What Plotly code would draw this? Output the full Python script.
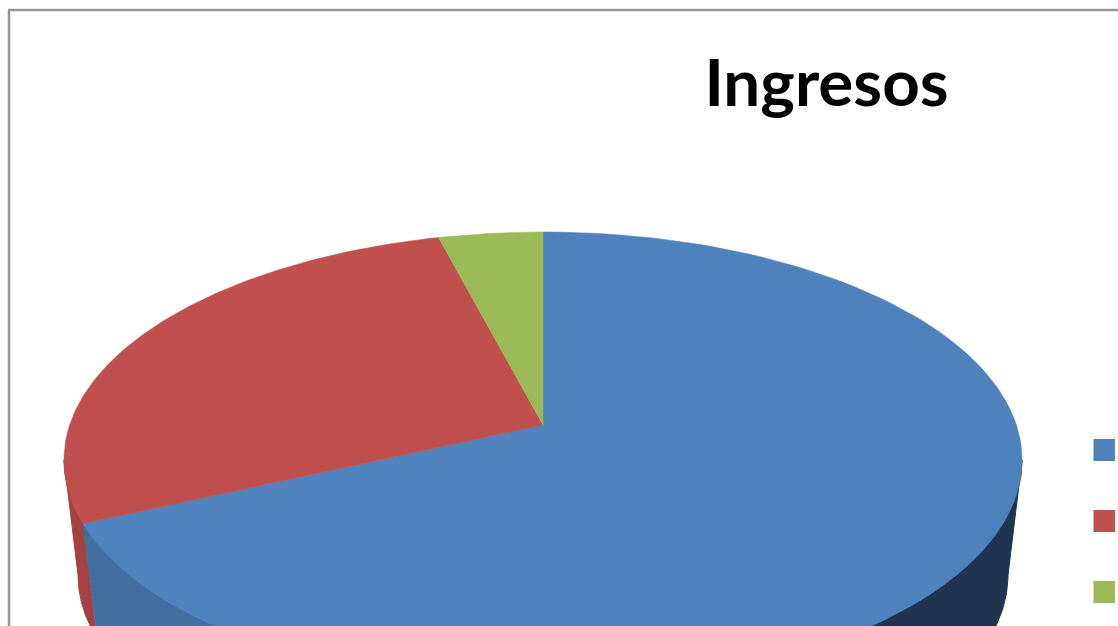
import numpy as np
import plotly.graph_objects as go

# Data (legend labels are cut off in the reference)
categories = ["Categoría 1", "Categoría 2", "Categoría 3"]
shares = [70.5, 26.0, 3.5]
slice_colors = ["#4F81BD", "#C0504D", "#9BBB59"]
title_text = "Ingresos"

# 3D look of the pie (style only)
APEX = (543, 425)
TOP = dict(cx=543, cy=460, rx=479, ry=228)
BOTTOM = dict(cx=543, cy=575, rx=465, ry=225)
WALLS = [(90, 180, "#20344F"), (None, 270, "#A5423F"), (180, None, "#426F9F")]


def arc(e, a0, a1, n=160):
    t = np.radians(np.linspace(a0, a1, n))
    return e["cx"] + e["rx"] * np.sin(t), e["cy"] - e["ry"] * np.cos(t)


edges = np.concatenate([[0], np.cumsum(shares)]) / sum(shares) * 360
fig = go.Figure()

blue_end = edges[1]
for a0, a1, col in WALLS:
    a0 = blue_end if a0 is None else a0
    a1 = blue_end if a1 is None else a1
    xt, yt = arc(TOP, a0, a1)
    xb, yb = arc(BOTTOM, a1, a0)
    fig.add_trace(go.Scatter(x=np.r_[xt, xb, xt[0]], y=np.r_[yt, yb, yt[0]], mode="lines", fill="toself",
                             fillcolor=col, line=dict(width=1, color=col), hoverinfo="skip", showlegend=False))

for i, name in enumerate(categories):
    xs, ys = arc(TOP, edges[i], edges[i + 1])
    fig.add_trace(go.Scatter(x=np.r_[APEX[0], xs, APEX[0]], y=np.r_[APEX[1], ys, APEX[1]],
                             mode="lines", fill="toself", fillcolor=slice_colors[i],
                             line=dict(width=0.6, color=slice_colors[i]), name=name,
                             hoverinfo="name", showlegend=False))

W, H = 1118, 626
shapes = [
    dict(type="line", xref="x", yref="y", x0=9, x1=9, y0=10, y1=H, line=dict(color="#979797", width=2.5)),
    dict(type="line", xref="x", yref="y", x0=8, x1=W, y0=10, y1=10, line=dict(color="#979797", width=2.5)),
]
for col, yc in zip(slice_colors, [450, 521, 592]):
    shapes.append(dict(type="rect", xref="x", yref="y", x0=1093.5, x1=1115, y0=yc - 11, y1=yc + 11,
                       fillcolor=col, line=dict(width=0)))

fig.update_layout(
    width=W, height=H, autosize=False,
    margin=dict(l=0, r=0, t=0, b=0),
    paper_bgcolor="white", plot_bgcolor="white",
    xaxis=dict(range=[0, W], visible=False, fixedrange=True),
    yaxis=dict(range=[H, 0], visible=False, fixedrange=True),
    shapes=shapes,
    showlegend=False,
    title=dict(text="<b>" + title_text + "</b>", x=826.5 / W, xanchor="center",
               y=1 - 106 / H, yanchor="bottom", yref="container", pad=dict(b=0),
               font=dict(family="Lato", size=65.5, color="black")),
)

fig.write_html("out.html", config={"displayModeBar": False},
               post_script="document.body.style.margin='0';document.body.style.overflow='hidden';")
